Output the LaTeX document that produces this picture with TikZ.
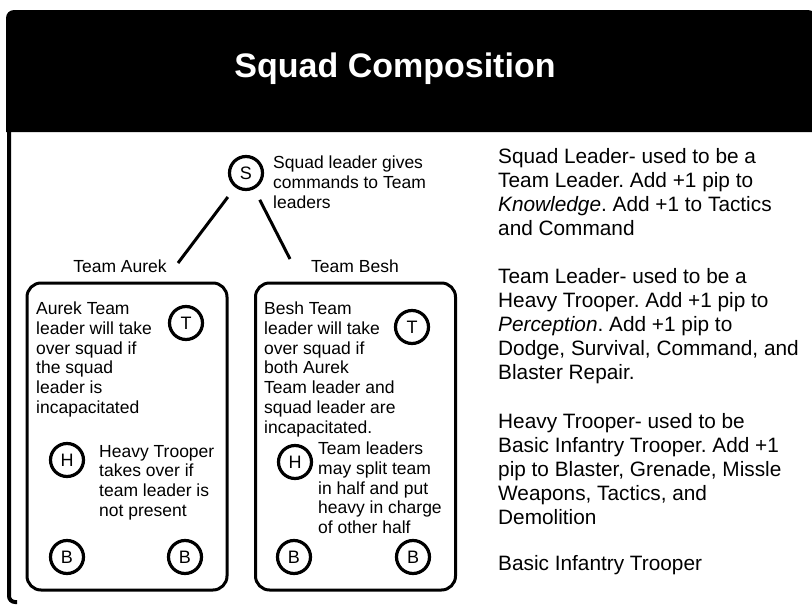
\documentclass[tikz,border=0pt]{standalone}
\usepackage{fontspec}
\setmainfont{Liberation Sans}
\frenchspacing
\begin{document}
\frenchspacing
\begin{tikzpicture}[x=1pt,y=-1pt,
  circ/.style={circle,draw,line width=3.2pt,minimum size=33pt,inner sep=0pt,font=\fontsize{18}{18}\selectfont},
  btext/.style={anchor=north west,align=left,inner sep=0pt,font=\fontsize{17.5}{19.7}\selectfont},
  rtext/.style={anchor=north west,align=left,inner sep=0pt,font=\fontsize{20.8}{24}\selectfont},
  teambox/.style={draw,rounded corners=14pt,line width=3pt,minimum width=200pt,minimum height=307pt,inner sep=0pt},
  conn/.style={line width=3pt,shorten <=12pt}]
\useasboundingbox (0,0) rectangle (812,605);
% frame
\fill (6,132) [rounded corners=8pt] -- (6,10) -- (816,10) [sharp corners] -- (816,132) -- cycle;
\draw[line width=4pt,rounded corners=6pt] (9,130) -- (9,602) -- (17,602);
\node[anchor=base,text=white,font=\fontsize{34}{34}\selectfont\bfseries] (title) at (395,77) {Squad Composition};
% squad leader
\node[circ] (S) at (246,173) {S};
\node[btext] (stext) at (273,156) {Squad leader gives\\commands to Team\\leaders};
\coordinate (a1) at (178,263);
\coordinate (b1) at (290,259);
\draw[conn] (S) -- (a1);
\draw[conn] (S) -- (b1);
\node[anchor=north,inner sep=0pt,font=\fontsize{17.5}{19.7}\selectfont] (ta) at (120,260) {Team Aurek};
\node[anchor=north,inner sep=0pt,font=\fontsize{17.5}{19.7}\selectfont] (tb) at (355,260) {Team Besh};
% boxes
\node[teambox] (boxA) at (127,436.5) {};
\node[teambox] (boxB) at (355.5,436.5) {};
% team Aurek
\node[btext] (atext) at (36,302) {Aurek Team\\leader will take\\over squad if\\the squad\\leader is\\incapacitated};
\node[circ] (TA) at (186,323) {T};
\node[circ] (HA) at (67,460) {H};
\node[btext] (hatext) at (99,445) {Heavy Trooper\\takes over if\\team leader is\\not present};
\node[circ] (BA1) at (67,557) {B};
\node[circ] (BA2) at (185,557) {B};
% team Besh
\node[btext] (btext) at (264,302) {Besh Team\\leader will take\\over squad if\\both Aurek\\Team leader and\\squad leader are\\incapacitated.};
\node[circ] (TB) at (412,327) {T};
\node[circ] (HB) at (295,462) {H};
\node[btext] (hbtext) at (318,442) {Team leaders\\may split team\\in half and put\\heavy in charge\\of other half};
\node[circ] (BB1) at (294,557) {B};
\node[circ] (BB2) at (413,557) {B};
% right column
\node[rtext] (p1) at (498,148) {Squad Leader- used to be a\\Team Leader. Add +1 pip to\\\textit{Knowledge}. Add +1 to Tactics\\and Command};
\node[rtext] (p2) at (498,268) {Team Leader- used to be a\\Heavy Trooper. Add +1 pip to\\\textit{Perception}. Add +1 pip to\\Dodge, Survival, Command, and\\Blaster Repair.};
\node[rtext] (p3) at (498,413) {Heavy Trooper- used to be\\Basic Infantry Trooper. Add +1\\pip to Blaster, Grenade, Missle\\Weapons, Tactics, and\\Demolition};
\node[rtext] (p4) at (498,555) {Basic Infantry Trooper};
\end{tikzpicture}
\end{document}
